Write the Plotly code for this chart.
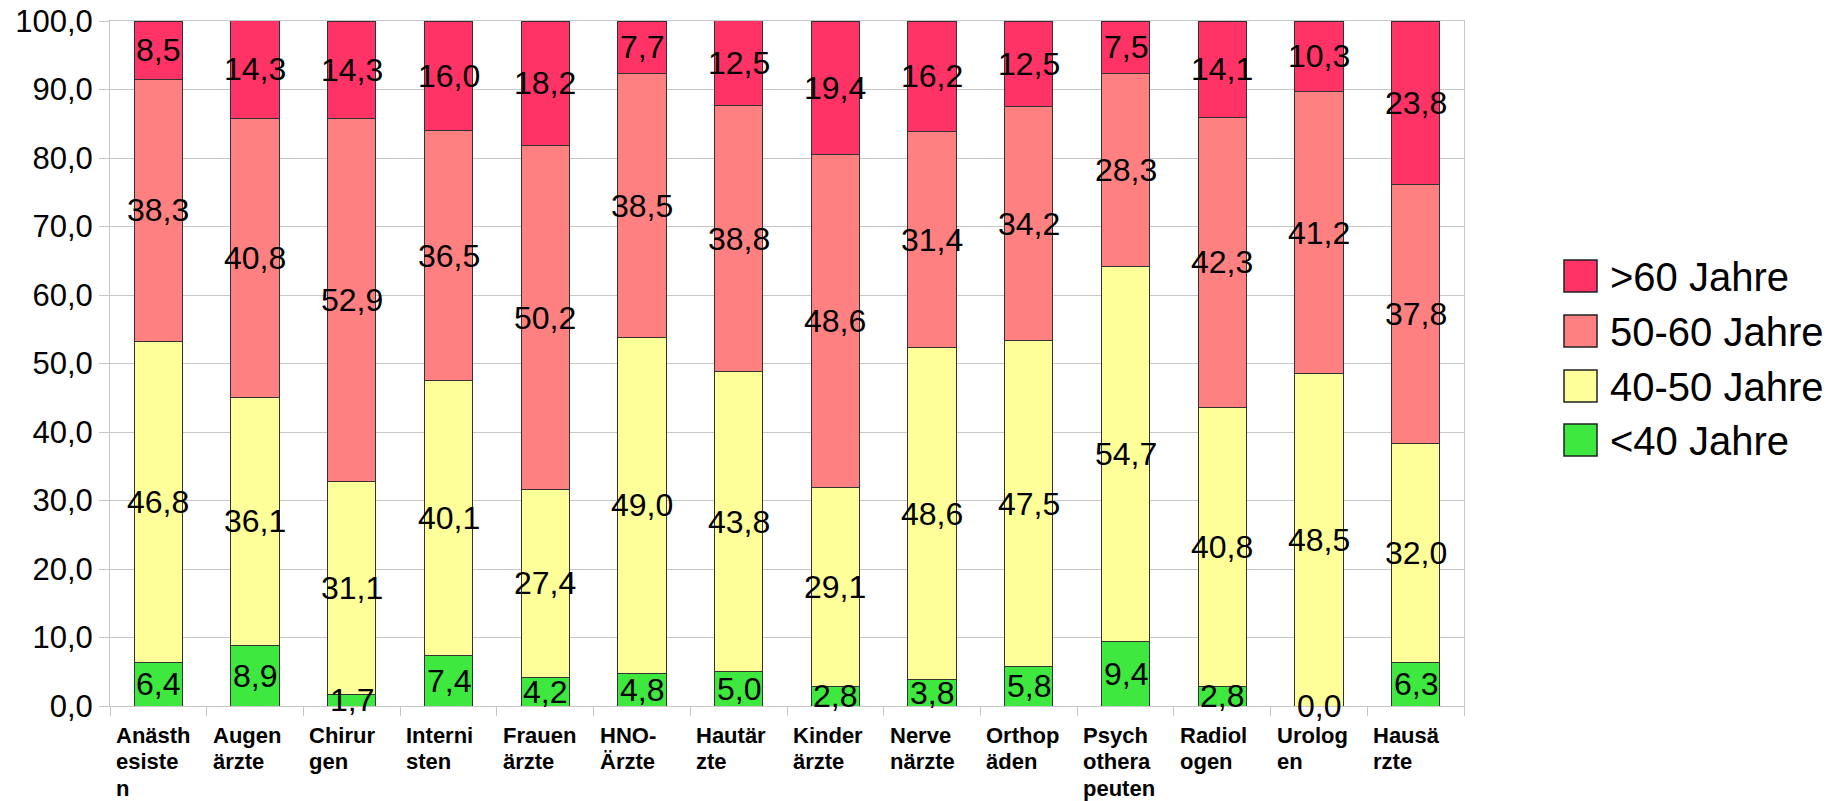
import plotly.graph_objects as go

# Fachgruppen (x-axis labels, pre-wrapped as printed)
categories = [
    "Anästh<br>esiste<br>n", "Augen<br>ärzte", "Chirur<br>gen", "Interni<br>sten",
    "Frauen<br>ärzte", "HNO-<br>Ärzte", "Hautär<br>zte", "Kinder<br>ärzte",
    "Nerve<br>närzte", "Orthop<br>äden", "Psych<br>othera<br>peuten",
    "Radiol<br>ogen", "Urolog<br>en", "Hausä<br>rzte",
]

# Altersanteile in Prozent
unter_40 = [6.4, 8.9, 1.7, 7.4, 4.2, 4.8, 5.0, 2.8, 3.8, 5.8, 9.4, 2.8, 0.0, 6.3]
j40_50 = [46.8, 36.1, 31.1, 40.1, 27.4, 49.0, 43.8, 29.1, 48.6, 47.5, 54.7, 40.8, 48.5, 32.0]
j50_60 = [38.3, 40.8, 52.9, 36.5, 50.2, 38.5, 38.8, 48.6, 31.4, 34.2, 28.3, 42.3, 41.2, 37.8]
ueber_60 = [8.5, 14.3, 14.3, 16.0, 18.2, 7.7, 12.5, 19.4, 16.2, 12.5, 7.5, 14.1, 10.3, 23.8]

series = [
    ("<40 Jahre", unter_40, "#3ee83e"),
    ("40-50 Jahre", j40_50, "#ffff99"),
    ("50-60 Jahre", j50_60, "#ff8080"),
    (">60 Jahre", ueber_60, "#ff3366"),
]

y_ticks = [0, 10, 20, 30, 40, 50, 60, 70, 80, 90, 100]

FONT = "Liberation Sans, Arial, sans-serif"
GRID = "#c6c6c6"

# plot-area geometry in pixels
W, H = 1842, 801
ML, MR, MT, MB = 110, 378, 21, 95
PW, PH = W - ML - MR, H - MT - MB


def px_to_paper_x(px):
    return (px - ML) / PW


def px_to_paper_y(py):
    return (H - MB - py) / PH


def fmt(v):
    return f"{v:.1f}".replace(".", ",")


xs = list(range(len(categories)))
fig = go.Figure()
annotations = []
base = [0.0] * len(categories)

for name, vals, color in series:
    fig.add_trace(go.Bar(
        x=xs, y=vals, name=name, width=0.5,
        marker=dict(color=color, line=dict(color="#333333", width=1)),
        showlegend=False, hoverinfo="skip",
    ))
    for i, v in enumerate(vals):
        annotations.append(dict(
            x=i, y=base[i] + v / 2, xref="x", yref="y", text=fmt(v),
            showarrow=False, font=dict(family=FONT, size=32, color="black"),
            xanchor="center", yanchor="middle",
        ))
        base[i] += v

# category labels, left-aligned under each slot, one annotation per line
row_centers = [735, 761, 788]
slot_px = PW / len(categories)
for i, lab in enumerate(categories):
    for r, part in enumerate(lab.split("<br>")):
        annotations.append(dict(
            x=i - 0.5 + 4 / slot_px, y=px_to_paper_y(row_centers[r]),
            xref="x", yref="paper", text=part, showarrow=False,
            xanchor="left", yanchor="middle",
            font=dict(family=FONT, size=22, color="black", weight="bold"),
        ))

# legend drawn by hand (large square keys)
shapes = []
legend_rows = [(">60 Jahre", "#ff3366", 276), ("50-60 Jahre", "#ff8080", 331),
               ("40-50 Jahre", "#ffff99", 386), ("<40 Jahre", "#3ee83e", 440)]
for name, color, cy in legend_rows:
    shapes.append(dict(
        type="rect", xref="paper", yref="paper",
        x0=px_to_paper_x(1564), x1=px_to_paper_x(1597),
        y0=px_to_paper_y(cy + 16), y1=px_to_paper_y(cy - 16),
        fillcolor=color, line=dict(color="#222222", width=1.5),
    ))
    annotations.append(dict(
        x=px_to_paper_x(1608), y=px_to_paper_y(cy + 1), xref="paper", yref="paper",
        text=name, showarrow=False, xanchor="left", yanchor="middle",
        font=dict(family=FONT, size=40, color="black"),
    ))

fig.update_layout(
    width=W, height=H, barmode="stack",
    margin=dict(l=ML, r=MR, t=MT, b=MB, pad=0, autoexpand=False),
    plot_bgcolor="white", paper_bgcolor="white",
    separators=",.",
    annotations=annotations, shapes=shapes,
    font=dict(family=FONT, color="black"),
)
fig.update_xaxes(
    range=[-0.5, len(categories) - 0.5], showticklabels=False, automargin=False,
    tickmode="array", tickvals=[k - 0.5 for k in range(len(categories) + 1)],
    ticks="outside", ticklen=9, tickcolor=GRID, tickwidth=1,
    showgrid=False, zeroline=False, showline=True, linecolor=GRID, mirror=True,
)
fig.update_yaxes(
    range=[0, 100], tickmode="array", tickvals=y_ticks, automargin=False,
    ticktext=[fmt(v) for v in y_ticks],
    ticks="outside", ticklen=10, tickcolor=GRID,
    showgrid=True, gridcolor=GRID, zeroline=False,
    showline=True, linecolor=GRID, mirror=True,
    tickfont=dict(family=FONT, size=31, color="black"),
)

fig.write_html("out.html")
